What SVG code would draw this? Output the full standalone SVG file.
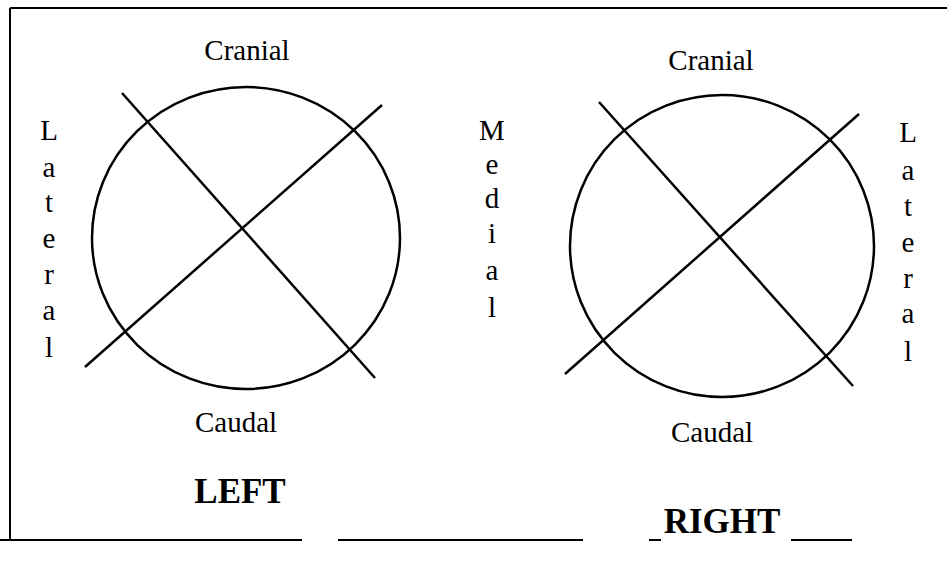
<svg xmlns="http://www.w3.org/2000/svg" width="947" height="567" viewBox="0 0 947 567">
<style>
.t{font-family:"Liberation Serif","Times New Roman",serif;font-size:29px;fill:#000;text-anchor:middle}
.b{font-family:"Liberation Serif","Times New Roman",serif;font-size:35px;font-weight:bold;fill:#000;text-anchor:middle}
.s{fill:none;stroke:#000;stroke-width:2.5}
.f{fill:none;stroke:#000;stroke-width:2}
</style>
<rect width="947" height="567" fill="#fff"/>
<g id="frame">
<path class="f" d="M10,8 L947,8 M10,8 L10,541"/>
<path class="f" d="M0,540 L302,540 M338,540 L583,540 M649,540 L661,540 M791,540 L852,540" stroke="#444"/>
</g>
<g id="left-diagram">
<ellipse class="s" cx="246" cy="238" rx="154" ry="151"/>
<g id="left-lines">
<line class="s" x1="122" y1="93" x2="375" y2="378"/>
<line class="s" x1="85" y1="367" x2="382" y2="105"/>
</g>
<text class="t" x="247" y="60">Cranial</text>
<text class="t" x="236" y="432">Caudal</text>
<text class="b" x="240" y="503">LEFT</text>
<g id="left-lateral" class="t">
<text x="49" y="140">L</text>
<text x="49" y="177">a</text>
<text x="49" y="212">t</text>
<text x="49" y="248">e</text>
<text x="49" y="284">r</text>
<text x="49" y="320">a</text>
<text x="49" y="357">l</text>
</g>
</g>
<g id="medial" class="t">
<text x="492" y="140">M</text>
<text x="492" y="174">e</text>
<text x="492" y="208">d</text>
<text x="492" y="243">i</text>
<text x="492" y="280">a</text>
<text x="492" y="317">l</text>
</g>
<g id="right-diagram">
<ellipse class="s" cx="722" cy="246" rx="152" ry="151"/>
<g id="right-lines">
<line class="s" x1="599" y1="102" x2="853" y2="386"/>
<line class="s" x1="565" y1="374" x2="859" y2="114"/>
</g>
<text class="t" x="711" y="70">Cranial</text>
<text class="t" x="712" y="442">Caudal</text>
<text class="b" x="722" y="533">RIGHT</text>
<g id="right-lateral" class="t">
<text x="908" y="142">L</text>
<text x="908" y="180">a</text>
<text x="908" y="216">t</text>
<text x="908" y="252">e</text>
<text x="908" y="288">r</text>
<text x="908" y="323">a</text>
<text x="908" y="361">l</text>
</g>
</g>
</svg>
